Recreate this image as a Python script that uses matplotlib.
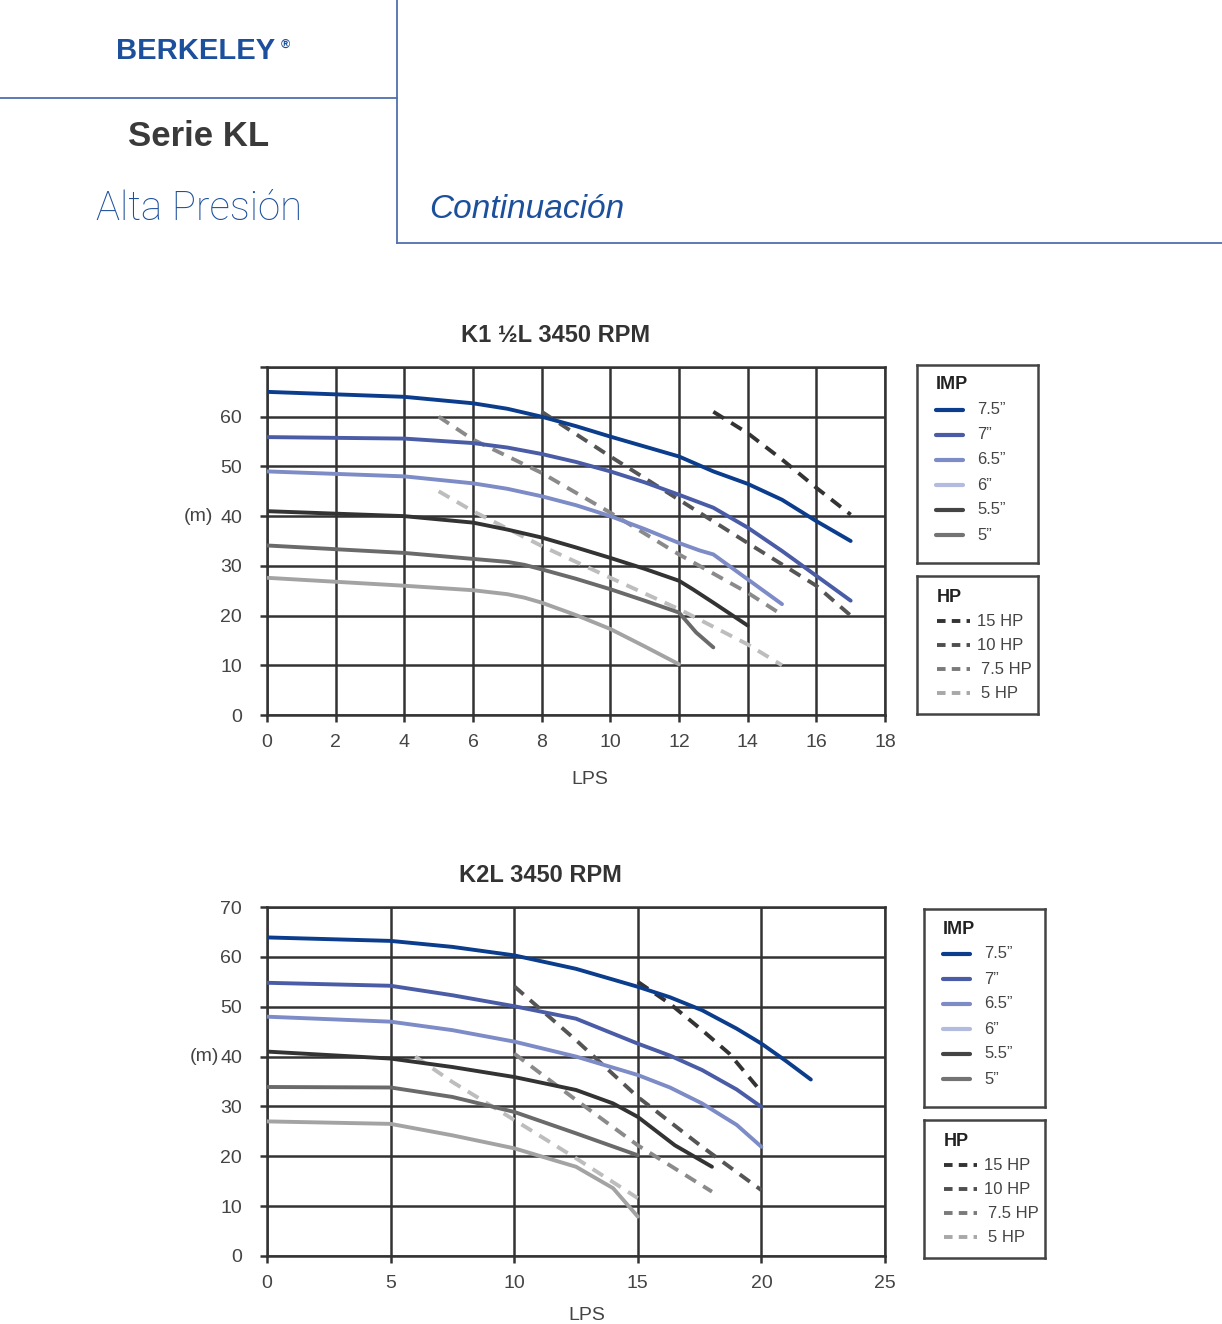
import matplotlib
matplotlib.use('Agg')
import matplotlib.pyplot as plt
from matplotlib.lines import Line2D

fuente = 'Liberation Sans'

# ---------------- Datos K1 1/2L ----------------
k1_x = [
    [0, 2, 4, 6, 7, 8, 9, 10, 11, 12, 13, 14, 15, 16, 17],
    [0, 4, 6, 7, 8, 9, 10, 11, 12, 13, 14, 15, 16, 17],
    [0, 4, 6, 7, 8, 9, 10, 11, 12, 12.6, 13, 14, 15],
    [0, 2, 4, 6, 7, 8, 9, 10, 11, 12, 12.4, 13, 14],
    [0, 4, 6, 7, 7.5, 8, 9, 10, 11, 12, 12.5, 13],
    [0, 4, 6, 7, 7.5, 8, 9, 10, 11, 12],
]
k1_y = [
    [65, 64.5, 64, 62.7, 61.6, 60, 58.1, 56, 54, 52, 49, 46.5, 43.3, 39, 35],
    [55.9, 55.6, 54.7, 53.8, 52.5, 50.9, 49, 46.8, 44.3, 41.7, 37.7, 33, 28, 23],
    [49, 48, 46.6, 45.5, 44, 42.2, 40, 37.4, 34.6, 33.1, 32.3, 27.3, 22.3],
    [41, 40.5, 40, 38.7, 37.3, 35.7, 33.7, 31.6, 29.4, 27, 25.3, 22.6, 18],
    [34.1, 32.6, 31.4, 30.8, 30.2, 29.3, 27.4, 25.3, 23, 20.6, 16.6, 13.6],
    [27.6, 26, 25.1, 24.3, 23.6, 22.6, 20.1, 17.3, 13.8, 10.2],
]
k1_hp_x = [
    [13, 14, 15, 16, 17],
    [8, 10, 12, 14, 16, 17],
    [5, 6, 8, 10, 12, 14, 14.9],
    [5, 6, 8, 10, 12, 14, 15],
]
k1_hp_y = [
    [61, 56.7, 51.4, 45.7, 40.3],
    [61, 52, 43.3, 34.6, 26, 20],
    [60, 55.4, 48.7, 40.7, 32.3, 24.6, 20.6],
    [45, 41, 34, 27.6, 21.3, 14.2, 10],
]

# ---------------- Datos K2L ----------------
k2_x = [
    [0, 5, 7.5, 10, 12.5, 15, 16.3, 17.6, 19, 20, 21, 22],
    [0, 5, 7.5, 10, 12.5, 15, 16.3, 17.6, 19, 20],
    [0, 5, 7.5, 10, 12.5, 15, 16.3, 17.6, 19, 20],
    [0, 5, 7.5, 10, 12.5, 14, 15, 16.5, 18],
    [0, 5, 7.5, 10, 12.5, 15],
    [0, 5, 7.5, 10, 12.5, 14, 15],
]
k2_y = [
    [63.9, 63.2, 62, 60.3, 57.6, 54, 51.9, 49.3, 45.6, 42.6, 39.1, 35.4],
    [54.8, 54.2, 52.3, 50.1, 47.6, 42.6, 40.2, 37.3, 33.4, 29.9],
    [48, 47, 45.3, 43, 40, 36.3, 33.8, 30.6, 26.3, 21.9],
    [41, 39.6, 37.9, 35.9, 33.3, 30.6, 27.9, 22.2, 17.9],
    [33.9, 33.8, 31.9, 28.9, 24.6, 20.2],
    [27, 26.5, 24.2, 21.6, 17.9, 13.6, 7.9],
]
k2_hp_x = [
    [15, 16.3, 17.6, 18.7, 20],
    [10, 12.5, 15, 17.6, 20],
    [10, 12.5, 15, 18],
    [6, 7.5, 10, 12.5, 15],
]
k2_hp_y = [
    [55, 50.6, 45.3, 40.6, 32.9],
    [54.1, 43.3, 31.9, 21.9, 13.2],
    [40.6, 31.3, 22.2, 12.9],
    [40, 34.9, 27.3, 19.6, 11.6],
]

# leyendas
imp_labels = ['7.5”', '7”', '6.5”', '6”', '5.5”', '5”']
imp_colors = ['#0b3d8c', '#4a5ca6', '#7d8bc6', '#b3bbdf', '#444444', '#737373']
hp_labels = ['15 HP', '10 HP', '7.5 HP', '5 HP']
hp_colors = ['#333333', '#4f4f4f', '#7a7a7a', '#a8a8a8']

# colores de las curvas en la grafica
curve_colors = ['#0b3d8c', '#4a5ca6', '#7d8bc6', '#333333', '#6a6a6a', '#a3a3a3']
dash_colors = ['#333333', '#555555', '#8a8a8a', '#bdbdbd']

W, H = 1222, 1324
fig = plt.figure(figsize=(W / 100, H / 100), dpi=100)


def fx(px):
    return px / W


def fy(py):
    return 1 - py / H


grid_col = '#333333'
tick_col = '#444444'

# ---------------- Encabezado ----------------
azul = '#1c4f9c'
fig.add_artist(Line2D([0, fx(397)], [fy(98), fy(98)], color='#4f6fae', lw=1.3))
fig.add_artist(Line2D([fx(397), fx(397)], [fy(0), fy(243)], color='#4f6fae', lw=1.3))
fig.add_artist(Line2D([fx(397), 1], [fy(243), fy(243)], color='#4f6fae', lw=1.3))
fig.text(fx(196), fy(51), 'BERKELEY', color=azul, fontsize=21, fontweight='bold',
         family=fuente, ha='center', va='center')
fig.text(fx(285), fy(45), '®', color=azul, fontsize=9, fontweight='bold',
         family=fuente, ha='center', va='center')
fig.text(fx(199), fy(136), 'Serie KL', color='#3a3a3a', fontsize=25, fontweight='bold',
         family=fuente, ha='center', va='center')
fig.text(fx(199), fy(209), 'Alta Presión', color=azul, fontsize=29, fontweight='light',
         family='Roboto', ha='center', va='center')
fig.text(fx(527), fy(209), 'Continuación', color=azul, fontsize=24, style='italic',
         family=fuente, ha='center', va='center')


def draw_chart(box, xmax, xstep, xs, ys, hxs, hys, ylabels_max, title, title_x, title_y,
               lps_x, lps_y, m_x):
    left, top, right, bottom = box
    ax = fig.add_axes([fx(left), fy(bottom), fx(right) - fx(left), fy(top) - fy(bottom)])
    for i in range(len(xs)):
        ax.plot(xs[i], ys[i], color=curve_colors[i], lw=2.8, solid_capstyle='round',
                solid_joinstyle='round', zorder=3)
    for i in range(len(hxs)):
        ax.plot(hxs[i], hys[i], color=dash_colors[i], lw=2.8, dashes=(3.2, 2.2), zorder=2)
    ax.set_xlim(0, xmax)
    ax.set_ylim(0, 70)
    ax.set_xticks(range(0, xmax + 1, xstep))
    ax.set_yticks(range(0, 71, 10))
    ax.set_yticklabels([str(v) if v <= ylabels_max else '' for v in range(0, 71, 10)])
    ax.grid(True, color=grid_col, lw=1.8)
    ax.set_axisbelow(True)
    for s in ax.spines.values():
        s.set_color(grid_col)
        s.set_linewidth(1.8)
    ax.tick_params(direction='out', length=5, width=1.8, color=grid_col,
                   labelcolor=tick_col, labelsize=14, pad=13)
    ax.tick_params(axis='x', pad=9)
    for lab in ax.get_xticklabels() + ax.get_yticklabels():
        lab.set_family(fuente)
    fig.text(fx(title_x), fy(title_y), title, fontsize=17, fontweight='bold', color='#333333',
             family=fuente, ha='center', va='center')
    fig.text(fx(lps_x), fy(lps_y), 'LPS', fontsize=14, color=tick_col, family=fuente,
             ha='center', va='center')
    fig.text(fx(m_x), fy((top + bottom) / 2 + (bottom - top) * (40 - 35) / -70), '(m)',
             fontsize=14, color=tick_col, family=fuente, ha='center', va='center')
    return ax


def draw_legends(ox, oy):
    # caja IMP
    bx = fig.add_axes([fx(917 + ox), fy(563 + oy), fx(121), fy(0) - fy(198)])
    bx.set_xlim(0, 121)
    bx.set_ylim(198, 0)
    bx.set_xticks([])
    bx.set_yticks([])
    for s in bx.spines.values():
        s.set_color('#444444')
        s.set_linewidth(1.8)
    bx.text(19, 20, 'IMP', fontsize=13, fontweight='bold', color='#222222', family=fuente,
            va='center')
    for i, (lab, c) in enumerate(zip(imp_labels, imp_colors)):
        yy = 45 + 25 * i
        bx.plot([19, 46], [yy, yy], color=c, lw=3, solid_capstyle='round')
        bx.text(60, yy, lab, fontsize=12, color='#444444', family=fuente, va='center')
    # caja HP
    hx = fig.add_axes([fx(917 + ox), fy(714 + oy), fx(121), fy(0) - fy(138)])
    hx.set_xlim(0, 121)
    hx.set_ylim(138, 0)
    hx.set_xticks([])
    hx.set_yticks([])
    for s in hx.spines.values():
        s.set_color('#444444')
        s.set_linewidth(1.8)
    hx.text(20, 21, 'HP', fontsize=13, fontweight='bold', color='#222222', family=fuente,
            va='center')
    for i, (lab, c) in enumerate(zip(hp_labels, hp_colors)):
        yy = 45 + 24 * i
        hx.plot([20, 53], [yy, yy], color=c, lw=2.8, dashes=(2.2, 1.6))
        hx.text(60 if i < 2 else 64, yy, lab, fontsize=12, color='#444444', family=fuente,
                va='center')


draw_chart((267, 367, 885, 715), 18, 2, k1_x, k1_y, k1_hp_x, k1_hp_y, 60,
           'K1 ½L 3450 RPM', 556, 336, 590, 779, 198)
draw_legends(0, 0)

draw_chart((267, 907, 885, 1256), 25, 5, k2_x, k2_y, k2_hp_x, k2_hp_y, 70,
           'K2L 3450 RPM', 540, 876, 587, 1315, 204)
draw_legends(7, 544)

plt.savefig('out.png', dpi=100)
